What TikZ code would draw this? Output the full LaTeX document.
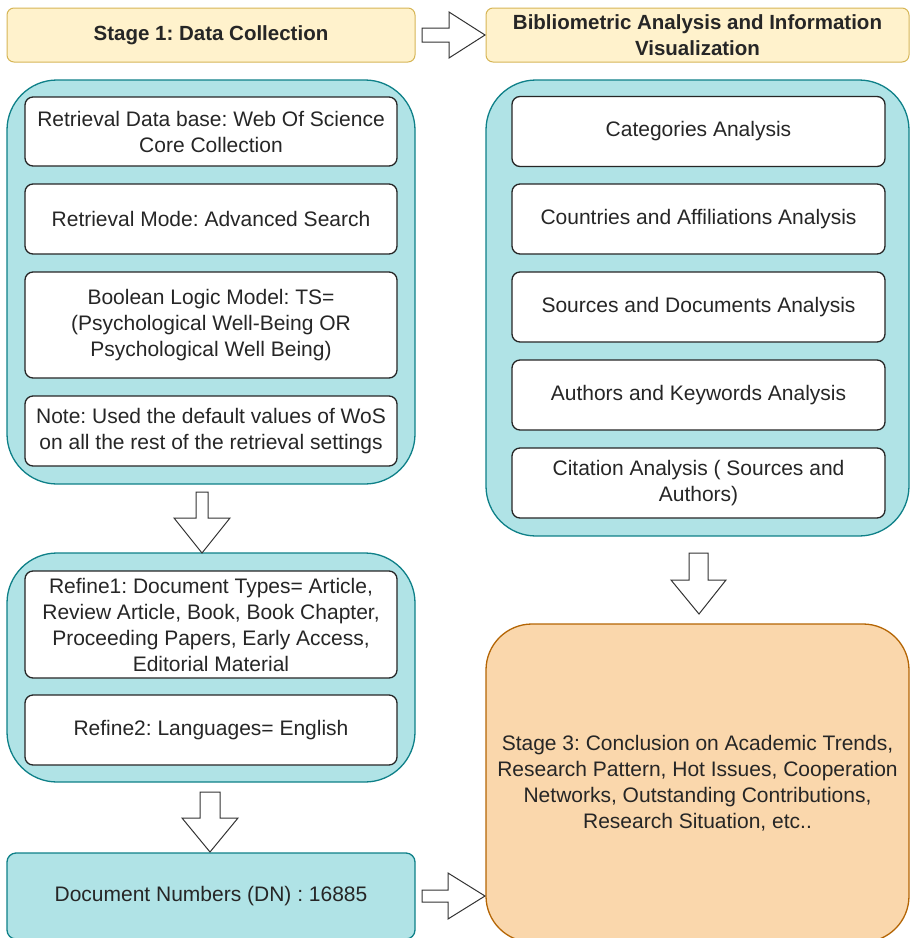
\documentclass[tikz,border=0pt]{standalone}
\usepackage{fontspec}
\setmainfont{Liberation Sans}
\usetikzlibrary{calc}
\frenchspacing
\definecolor{hdrfill}{HTML}{FFF2CC}
\definecolor{hdrline}{HTML}{D6B656}
\definecolor{cyfill}{HTML}{B0E3E6}
\definecolor{cyline}{HTML}{0E8088}
\definecolor{orfill}{HTML}{FAD7AC}
\definecolor{orline}{HTML}{B46504}
\definecolor{txt}{HTML}{262626}
\tikzset{
  every node/.style={font=\fontsize{21}{26}\selectfont, text=txt, inner sep=0pt},
  header/.style={draw=hdrline, fill=hdrfill, line width=1pt, rounded corners=7pt, align=center,
    font=\bfseries\fontsize{20.5}{26}\selectfont},
  container/.style={draw=cyline, fill=cyfill, line width=1.3pt, rounded corners=50pt},
  item/.style={draw=black!85, fill=white, line width=1.3pt, rounded corners=8pt, align=center,
    minimum width=372pt, minimum height=70pt},
  ritem/.style={item, minimum width=373pt},
  blockarrow/.style={draw=black!80, fill=white, line width=1pt, line join=miter},
}
\begin{document}
\begin{tikzpicture}[x=1pt, y=-1pt]
\useasboundingbox (0,0) rectangle (911,938);
\clip (0,0) rectangle (911,938);

% headers
\node[header, minimum width=408pt, minimum height=54pt] (s1) at (211,35) {Stage 1: Data Collection};
\node[header, minimum width=423pt, minimum height=54pt] (s2) at (697.5,35) {Bibliometric Analysis and Information\\Visualization};

% left container 1
\node[container, minimum width=408pt, minimum height=404pt] (c1) at (211,282) {};
\node[item, minimum height=69pt] (b1) at (211,131.5) {Retrieval Data base: Web Of Science\\Core Collection};
\node[item] (b2) at (211,219) {Retrieval Mode: Advanced Search};
\node[item, minimum height=106pt] (b3) at (211,325) {Boolean Logic Model: TS=\\(Psychological Well-Being OR\\Psychological Well Being)};
\node[item] (b4) at (211,431) {Note: Used the default values of WoS\\on all the rest of the retrieval settings};

% left container 2
\node[container, minimum width=408pt, minimum height=229pt] (c2) at (211,667.5) {};
\node[item, minimum height=107pt] (b5) at (211,624.5) {Refine1: Document Types= Article,\\Review Article, Book, Book Chapter,\\Proceeding Papers, Early Access,\\Editorial Material};
\node[item] (b6) at (211,730) {Refine2: Languages= English};

% document numbers
\node[draw=cyline, fill=cyfill, line width=1.3pt, rounded corners=9pt, minimum width=408pt, minimum height=86pt] (dn) at (211,896) {Document Numbers (DN) : 16885};

% right container
\node[container, minimum width=423pt, minimum height=456pt] (c3) at (697.5,308) {};
\node[ritem] (r1) at (698.5,131.5) {Categories Analysis};
\node[ritem] (r2) at (698.5,219) {Countries and Affiliations Analysis};
\node[ritem] (r3) at (698.5,307) {Sources and Documents Analysis};
\node[ritem] (r4) at (698.5,395) {Authors and Keywords Analysis};
\node[ritem] (r5) at (698.5,483) {Citation Analysis ( Sources and\\Authors)};

% stage 3
\node[draw=orline, fill=orfill, line width=1.3pt, rounded corners=46pt, minimum width=423pt, minimum height=318pt, align=center] (st3) at (697.5,783) {Stage 3: Conclusion on Academic Trends,\\Research Pattern, Hot Issues, Cooperation\\Networks, Outstanding Contributions,\\Research Situation, etc..};

% block arrows
\draw[blockarrow] (422,28) -- (449,28) -- (449,12) -- (485,35) -- (449,58) -- (449,42) -- (422,42) -- cycle;
\draw[blockarrow] (196,492) -- (208,492) -- (208,518) -- (230,518) -- (202,553) -- (174,518) -- (196,518) -- cycle;
\draw[blockarrow] (200,792) -- (220,792) -- (220,818) -- (238,818) -- (210,852) -- (182,818) -- (200,818) -- cycle;
\draw[blockarrow] (689,553) -- (708,553) -- (708,580) -- (726,580) -- (699,614) -- (671,580) -- (689,580) -- cycle;
\draw[blockarrow] (422,890) -- (448,890) -- (448,873) -- (485,896) -- (448,919) -- (448,902) -- (422,902) -- cycle;
\end{tikzpicture}
\end{document}
